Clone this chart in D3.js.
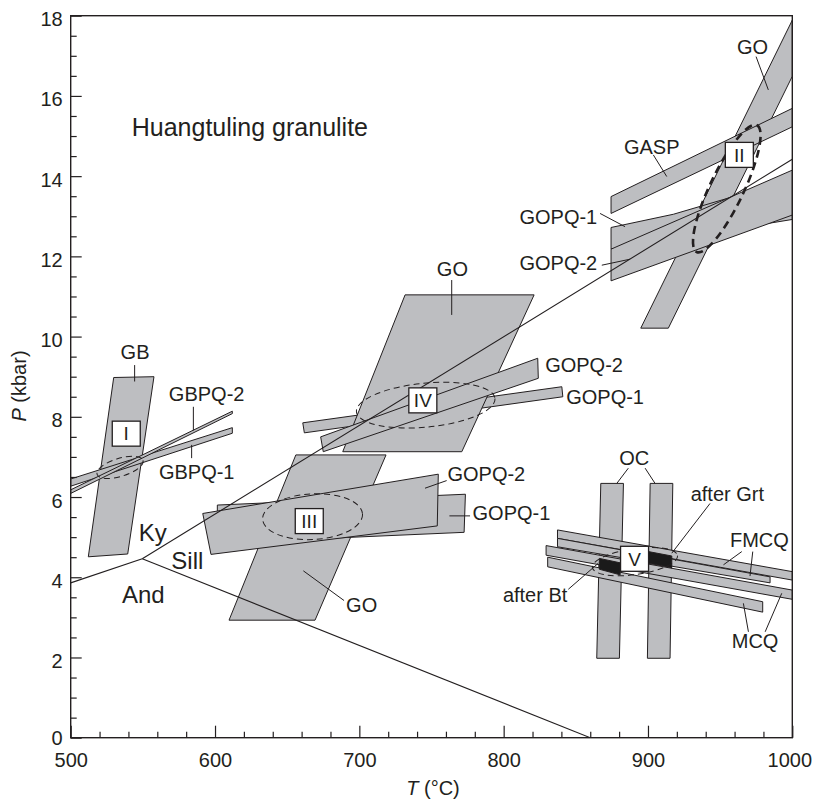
<!DOCTYPE html>
<html><head><meta charset="utf-8">
<script src="https://cdn.jsdelivr.net/npm/d3@7"></script>
<style>
html,body{margin:0;padding:0;background:#fff;}
svg text{font-family:"Liberation Sans",Arial,Helvetica,sans-serif;fill:#231f20;}
</style></head>
<body>
<svg id="c" width="813" height="801"></svg>
<script>
// ---------- data (T in °C, P in kbar) ----------
const xTicksMajor = [500,600,700,800,900,1000];
const yTicksMajor = [0,2,4,6,8,10,12,14,16,18];

// Region I
const gb     = [[529.8,8.98],[557.7,9.0],[539.5,4.58],[512.2,4.51]];
const gbpq1  = [[500,6.45],[612,7.73],[612,7.59],[500,6.27]];
const gbpq2  = [[500,6.18],[612,8.14],[612,8.08],[500,6.09]];
// Region III
const goIII    = [[656,7.05],[718.5,7.05],[669.3,2.93],[609.7,2.93]];
const gopq1III = [[601.6,5.80],[773.5,6.07],[772.6,5.12],[601.6,4.85]];
const gopq2III = [[591.5,5.59],[754.7,6.57],[754.0,5.28],[597.2,4.57]];
// Region IV
const gopq1IV = [[660.8,7.85],[840.3,8.75],[841.0,8.50],[661.9,7.60]];
const goIV    = [[731.7,11.04],[821.1,11.04],[771,7.13],[688.5,7.13]];
const gopq2IV = [[673.2,7.50],[823.6,9.46],[824.0,8.96],[675,7.13]];
// Region II
const goII    = [[895,10.21],[914.1,10.21],[1000,16.49],[1000,17.89]];
const gopq1II = [[874.4,12.72],[917.6,13.05],[959.2,13.49],[1000,13.85],[1000,12.92],[874.4,12.18]];
const gopq2II = [[874.4,12.18],[1000,14.15],[1000,13.03],[874.4,11.39]];
const gasp    = [[874.4,13.49],[1000,15.69],[1000,15.23],[874.4,13.07]];
// Region V
const ocLeft  = [[867.3,6.34],[883,6.34],[880.2,1.98],[864.5,1.98]];
const ocRight = [[901.5,6.34],[917.2,6.34],[915.3,1.98],[899.6,1.98]];
const fmcq1 = [[837.3,5.18],[1000,4.14],[1000,3.93],[837.3,4.97]];
const fmcq2 = [[837.3,4.97],[984.6,4.01],[984.6,3.86],[837.3,4.76]];
const mcq1  = [[829.4,4.79],[1000,3.68],[1000,3.45],[829.4,4.55]];
const mcq2  = [[830.5,4.50],[979.5,3.39],[979.5,3.13],[830.5,4.26]];
const afterBt  = [[866.3,4.47],[880.7,4.36],[880.7,4.06],[866.3,4.20]];
const afterGrt = [[900.3,4.64],[916.5,4.53],[916.5,4.24],[900.3,4.35]];

// Aluminosilicate phase boundaries
const andKy   = [[500,3.86],[549.6,4.46]];
const kySill  = [[549.6,4.46],[1000,14.42]];
const sillAnd = [[549.6,4.46],[860,0]];

// Dashed ellipses: centre, end of major semi-axis, end of minor semi-axis
const ellipses = [
  {c:[534.2,6.74], a:[550.1,6.915], b:[536.0,6.525], thick:false},
  {c:[954.6,13.69], a:[975.5,15.27], b:[965.2,13.51], thick:true},
  {c:[667.6,5.51], a:[702.2,5.575], b:[668.4,4.94], thick:false},
  {c:[746,8.29], a:[794,8.456], b:[747.5,7.744], thick:false},
  {c:[891,4.39], a:[920.5,4.54], b:[892.2,4.07], thick:false}
];
// Roman numeral boxes
const boxes = [
  {t:"I", p:[538.5,7.58]}, {t:"II", p:[963.3,14.53]}, {t:"III", p:[665.3,5.40]},
  {t:"IV", p:[744,8.41]}, {t:"V", p:[890.7,4.46]}
];
// Labels (centre positions)
const labels = [
  {t:"GB", p:[544.6,9.62]},
  {t:"GBPQ-2", p:[594.2,8.57]},
  {t:"GBPQ-1", p:[587.3,6.63]},
  {t:"GO", p:[972.4,17.23]},
  {t:"GASP", p:[902.6,14.73]},
  {t:"GOPQ-1", p:[837.9,12.99]},
  {t:"GOPQ-2", p:[837.9,11.83]},
  {t:"GO", p:[764.5,11.68]},
  {t:"GOPQ-2", p:[855.7,9.29]},
  {t:"GOPQ-1", p:[870.3,8.50]},
  {t:"GOPQ-2", p:[788,6.59]},
  {t:"GOPQ-1", p:[805.4,5.61]},
  {t:"GO", p:[701.6,3.31]},
  {t:"OC", p:[890.4,6.97]},
  {t:"after Grt", p:[955,6.09]},
  {t:"after Bt", p:[821.8,3.56]},
  {t:"FMCQ", p:[977.2,4.93]},
  {t:"MCQ", p:[974.2,2.42]}
];
const fieldLabels = [
  {t:"Ky", p:[556.8,5.12]}, {t:"Sill", p:[580.8,4.43]}, {t:"And", p:[550.3,3.58]}
];
const title = {t:"Huangtuling granulite", p:[542.3,15.0]};
// Leader lines
const leaders = [
  [[544.3,9.29],[544.3,8.88]],
  [[585,8.25],[585,7.66]],
  [[583.8,7.30],[583.8,6.97]],
  [[974.9,16.98],[983.4,16.15]],
  [[903.7,14.53],[913,13.99]],
  [[866.8,13.07],[884.1,12.74]],
  [[868,11.78],[887.6,11.93]],
  [[764,11.41],[764,10.54]],
  [[745.5,6.22],[760.5,6.41]],
  [[762.4,5.53],[776.7,5.53]],
  [[661.2,4.16],[689.4,3.42]],
  [[886.4,6.72],[878.4,6.34]],
  [[898,6.72],[904.9,6.34]],
  [[943,5.84],[916.5,4.60]],
  [[844.8,3.70],[865.6,4.35]],
  [[965,4.64],[952.3,4.31]],
  [[972.6,4.64],[970.7,4.03]],
  [[969.6,2.64],[966.1,3.35]],
  [[981.2,2.64],[992.7,3.60]]
];

// ---------- drawing ----------
const svg = d3.select("#c");
const x = d3.scaleLinear().domain([500,1000]).range([70.7,792.3]);
const y = d3.scaleLinear().domain([0,18]).range([737.7,15.7]);
const ink = "#231f20", grey = "#bdbec1";

svg.append("defs").append("clipPath").attr("id","plot")
  .append("rect").attr("x",x(500)).attr("y",y(18))
  .attr("width",x(1000)-x(500)).attr("height",y(0)-y(18));

const g = svg.append("g").attr("clip-path","url(#plot)");
const line = d3.line().x(d=>x(d[0])).y(d=>y(d[1]));
function poly(pts, fill){
  g.append("path").attr("d", line(pts)+"Z")
    .attr("fill", fill||grey).attr("stroke", ink).attr("stroke-width",1)
    .attr("stroke-linejoin","miter");
}
[goIII, gopq1III, gopq2III, gopq1IV, goIV, gopq2IV, gb, gbpq1, gbpq2,
 goII, gopq1II, gopq2II, gasp, ocLeft, ocRight, mcq1, mcq2, fmcq1, fmcq2].forEach(p=>poly(p));
[afterBt, afterGrt].forEach(p=>poly(p, "#1a1a1a"));

[andKy, kySill, sillAnd].forEach(l=>{
  g.append("path").attr("d", line(l)).attr("fill","none").attr("stroke",ink).attr("stroke-width",1.1);
});

ellipses.forEach(e=>{
  const cx=x(e.c[0]), cy=y(e.c[1]);
  const ax=x(e.a[0])-cx, ay=y(e.a[1])-cy;
  const bx=x(e.b[0])-cx, by=y(e.b[1])-cy;
  const rx=Math.hypot(ax,ay), ry=Math.hypot(bx,by);
  const ang=Math.atan2(ay,ax)*180/Math.PI;
  g.append("ellipse").attr("cx",0).attr("cy",0).attr("rx",rx).attr("ry",ry)
    .attr("transform",`translate(${cx},${cy}) rotate(${ang})`)
    .attr("fill","none").attr("stroke",ink)
    .attr("stroke-width", e.thick?2.6:1)
    .attr("stroke-dasharray", e.thick?"8,5":"6,4");
});

leaders.forEach(l=>{
  svg.append("path").attr("d", line(l)).attr("fill","none").attr("stroke",ink).attr("stroke-width",1);
});

boxes.forEach(b=>{
  const cx=x(b.p[0]), cy=y(b.p[1]);
  svg.append("rect").attr("x",cx-14).attr("y",cy-12.5).attr("width",28).attr("height",25)
    .attr("fill","#fff").attr("stroke",ink).attr("stroke-width",1.3);
  svg.append("text").attr("x",cx).attr("y",cy).attr("dy","0.36em")
    .attr("text-anchor","middle").attr("font-size",19).text(b.t);
});

labels.forEach(l=>{
  svg.append("text").attr("x",x(l.p[0])).attr("y",y(l.p[1])).attr("dy","0.36em")
    .attr("text-anchor","middle").attr("font-size",20).text(l.t);
});
fieldLabels.forEach(l=>{
  svg.append("text").attr("x",x(l.p[0])).attr("y",y(l.p[1])).attr("dy","0.36em")
    .attr("text-anchor","middle").attr("font-size",24).text(l.t);
});
svg.append("text").attr("x",x(title.p[0])).attr("y",y(title.p[1]))
  .attr("font-size",25).text(title.t);

// ---------- axes ----------
const xMinor = d3.range(500,1001,20).filter(v=>v%100!==0);
const yMinor = d3.range(0,18.01,0.5).filter(v=>v%2!==0);

const gx = svg.append("g").attr("transform",`translate(0,${y(0)})`);
gx.call(d3.axisBottom(x).tickValues(xMinor).tickSize(-6).tickFormat(""));
gx.selectAll(".domain").remove();
const gx2 = svg.append("g").attr("transform",`translate(0,${y(0)})`)
  .call(d3.axisBottom(x).tickValues(xTicksMajor).tickSize(-12).tickPadding(15).tickFormat(d3.format("d")));
gx2.selectAll(".domain").remove();
gx2.selectAll(".tick text").filter(d=>d===1000).attr("dx",-3);

const gy = svg.append("g").attr("transform",`translate(${x(500)},0)`);
gy.call(d3.axisLeft(y).tickValues(yMinor).tickSize(-6).tickFormat(""));
gy.selectAll(".domain").remove();
const gy2 = svg.append("g").attr("transform",`translate(${x(500)},0)`)
  .call(d3.axisLeft(y).tickValues(yTicksMajor).tickSize(-11).tickPadding(8).tickFormat(d3.format("d")));
gy2.selectAll(".domain").remove();
gy2.selectAll("text").attr("dy","0.5em");
gy2.selectAll(".tick text").filter(d=>d===0).attr("dy","0.34em");

svg.selectAll(".tick line").attr("stroke",ink).attr("stroke-width",1.2);
svg.selectAll(".tick text").attr("font-size",20).attr("fill",ink)
  .attr("font-family",'"Liberation Sans",Arial,Helvetica,sans-serif');

// frame
svg.append("rect").attr("x",x(500)).attr("y",y(18))
  .attr("width",x(1000)-x(500)).attr("height",y(0)-y(18))
  .attr("fill","none").attr("stroke",ink).attr("stroke-width",1.4);

// axis titles
const xt = svg.append("text").attr("x",433).attr("y",795).attr("text-anchor","middle").attr("font-size",20);
xt.append("tspan").attr("font-style","italic").text("T");
xt.append("tspan").text(" (°C)");
const yt = svg.append("text").attr("transform","translate(26,386) rotate(-90)")
  .attr("text-anchor","middle").attr("font-size",20);
yt.append("tspan").attr("font-style","italic").text("P");
yt.append("tspan").text(" (kbar)");
</script>
</body></html>
